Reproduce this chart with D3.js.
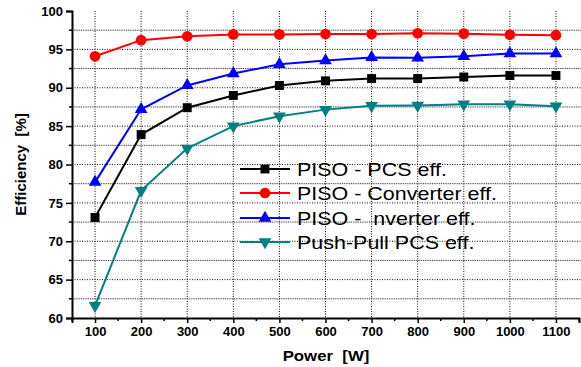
<!DOCTYPE html>
<html>
<head>
<meta charset="utf-8">
<script src="https://cdn.jsdelivr.net/npm/d3@7"></script>
<style>
    body { margin: 0; background: #fff; }
    svg { display: block; font-family: "Liberation Sans", Arial, sans-serif; }
</style>
</head>
<body>
<div id="app"></div>
<script>
// ----- Data -----
const powers = [100, 200, 300, 400, 500, 600, 700, 800, 900, 1000, 1100];
const pisoPcs = [73.1, 83.9, 87.4, 89.0, 90.3, 90.9, 91.2, 91.2, 91.4, 91.6, 91.6];
const pisoConverter = [94.1, 96.2, 96.7, 96.95, 96.95, 97.0, 97.0, 97.1, 97.05, 96.9, 96.85];
const pisoInverter = [77.7, 87.2, 90.3, 91.85, 93.05, 93.55, 93.95, 93.9, 94.1, 94.45, 94.45];
const pushPullPcs = [61.6, 76.6, 82.1, 85.0, 86.3, 87.15, 87.65, 87.7, 87.85, 87.85, 87.6];
const seriesNames = ["PISO - PCS eff.", "PISO - Converter eff.", "PISO -  nverter eff.", "Push-Pull PCS eff."];
const xTicks = [100, 200, 300, 400, 500, 600, 700, 800, 900, 1000, 1100];
const yTicks = [60, 65, 70, 75, 80, 85, 90, 95, 100];

const series = [
    { name: seriesNames[0], values: pisoPcs, color: "#000000", symbol: d3.symbolSquare, size: 80, rot: 0 },
    { name: seriesNames[1], values: pisoConverter, color: "#ff0000", symbol: d3.symbolCircle, size: 90, rot: 0 },
    { name: seriesNames[2], values: pisoInverter, color: "#0000ff", symbol: d3.symbolTriangle, size: 70, rot: 0 },
    { name: seriesNames[3], values: pushPullPcs, color: "#008080", symbol: d3.symbolTriangle, size: 70, rot: 180 }
];

// ----- Main program -----
function main() {
    const W = 581, H = 367;
    const plotLeft = 72, plotRight = 579, plotTop = 11, plotBottom = 318;

    const svg = d3.select("#app").append("svg")
        .attr("width", W)
        .attr("height", H);

    const x = d3.scaleLinear().domain([50, 1150]).range([plotLeft, plotRight]);
    const y = d3.scaleLinear().domain([60, 100]).range([plotBottom, plotTop]);

    // grid
    const grid = svg.append("g");
    const yMinor = d3.range(62.5, 100, 5);
    grid.selectAll(".hmaj")
        .data(yTicks.filter(v => v > 60 && v < 100))
        .enter().append("line")
            .attr("x1", plotLeft).attr("x2", W)
            .attr("y1", d => y(d)).attr("y2", d => y(d))
            .attr("stroke", "#111").attr("stroke-width", 1)
            .attr("stroke-dasharray", "1,1.5");
    grid.selectAll(".hmin")
        .data(yMinor)
        .enter().append("line")
            .attr("x1", plotLeft).attr("x2", W)
            .attr("y1", d => y(d)).attr("y2", d => y(d))
            .attr("stroke", "#333").attr("stroke-width", 1)
            .attr("stroke-dasharray", "1,0.8");
    grid.selectAll(".vmaj")
        .data(xTicks)
        .enter().append("line")
            .attr("x1", d => x(d)).attr("x2", d => x(d))
            .attr("y1", plotTop).attr("y2", plotBottom)
            .attr("stroke", "#111").attr("stroke-width", 1)
            .attr("stroke-dasharray", "1,1.5");

    // axes
    const axisBottom = d3.axisBottom(x).tickValues(xTicks).tickSize(5).tickPadding(4).tickFormat(d3.format("d"));
    const axisLeft = d3.axisLeft(y).tickValues(yTicks).tickSize(6).tickPadding(3).tickFormat(d3.format("d"));

    const gx = svg.append("g")
        .attr("transform", `translate(0,${plotBottom})`)
        .call(axisBottom);
    const gy = svg.append("g")
        .attr("transform", `translate(${plotLeft},0)`)
        .call(axisLeft);

    // minor ticks
    gx.selectAll(".minor")
        .data(d3.range(50, 1151, 100))
        .enter().append("line")
            .attr("x1", d => x(d)).attr("x2", d => x(d))
            .attr("y1", 0).attr("y2", 3)
            .attr("stroke", "#000").attr("stroke-width", 1.5);
    gy.selectAll(".minor")
        .data(yMinor)
        .enter().append("line")
            .attr("x1", 0).attr("x2", -3)
            .attr("y1", d => y(d)).attr("y2", d => y(d))
            .attr("stroke", "#000").attr("stroke-width", 1.5);

    [gx, gy].forEach(g => {
        g.select(".domain").attr("stroke-width", 2);
        g.selectAll(".tick line").attr("stroke-width", 1.5);
        g.selectAll(".tick text")
            .attr("font-size", 13)
            .attr("font-weight", "bold")
            .attr("font-family", "'Liberation Sans', Arial, sans-serif")
            .attr("fill", "#000");
    });

    // axis titles
    svg.append("text")
        .attr("transform", "translate(326,361) scale(1.12,1)")
        .attr("text-anchor", "middle")
        .attr("font-size", 15).attr("font-weight", "bold")
        .style("white-space", "pre")
        .text("Power  [W]");
    svg.append("text")
        .attr("transform", `translate(26,${(plotTop + plotBottom) / 2}) rotate(-90)`)
        .attr("text-anchor", "middle")
        .attr("font-size", 15).attr("font-weight", "bold")
        .style("white-space", "pre")
        .text("Efficiency  [%]");

    // lines and markers
    const line = d3.line()
        .x((d, i) => x(powers[i]))
        .y(d => y(d));

    series.forEach(s => {
        svg.append("path")
            .datum(s.values)
            .attr("fill", "none")
            .attr("stroke", s.color)
            .attr("stroke-width", 2)
            .attr("d", line);
        svg.append("g").selectAll("path")
            .data(s.values)
            .enter().append("path")
                .attr("d", d3.symbol().type(s.symbol).size(s.size))
                .attr("transform", (d, i) => `translate(${x(powers[i])},${y(d)}) rotate(${s.rot})`)
                .attr("fill", s.color);
    });

    // legend
    const legend = svg.append("g");
    const rowY = [169, 193, 218, 242];
    series.forEach((s, i) => {
        const row = legend.append("g").attr("transform", `translate(0,${rowY[i]})`);
        row.append("line")
            .attr("x1", 240).attr("x2", 290)
            .attr("stroke", s.color).attr("stroke-width", 2);
        row.append("path")
            .attr("d", d3.symbol().type(s.symbol).size(s.size))
            .attr("transform", `translate(265,0) rotate(${s.rot})`)
            .attr("fill", s.color);
        row.append("text")
            .attr("transform", "translate(297,7) scale(1.13,1)")
            .attr("font-size", 19)
            .style("white-space", "pre")
            .text(s.name);
    });
}

main();
</script>
</body>
</html>
